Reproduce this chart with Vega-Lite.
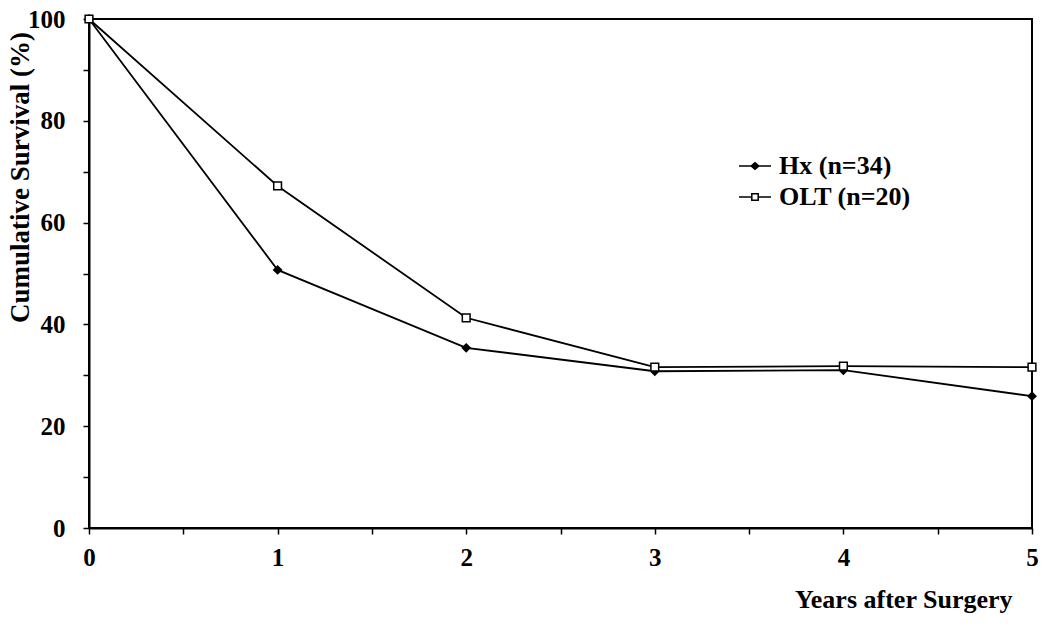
{
  "$schema": "https://vega.github.io/schema/vega-lite/v6.json",
  "autosize": "none",
  "width": 943,
  "height": 509,
  "padding": {"left": 89, "top": 19, "right": 18, "bottom": 99},
  "background": "white",
  "view": {"stroke": "black", "strokeWidth": 2},
  "config": {
    "font": "Liberation Serif",
    "axis": {"domainColor": "black", "domainWidth": 2, "tickColor": "black", "tickWidth": 1.5, "tickSize": 6, "grid": false, "labelFont": "Liberation Serif", "labelFontWeight": "bold", "labelFontSize": 25, "labelColor": "black", "titleFont": "Liberation Serif", "titleFontWeight": "bold", "titleColor": "black"}
  },
  "data": {"values": [
    {"year": 0, "surv": 100, "series": "Hx (n=34)"},
    {"year": 1, "surv": 50.7, "series": "Hx (n=34)"},
    {"year": 2, "surv": 35.4, "series": "Hx (n=34)"},
    {"year": 3, "surv": 30.8, "series": "Hx (n=34)"},
    {"year": 4, "surv": 31.0, "series": "Hx (n=34)"},
    {"year": 5, "surv": 25.9, "series": "Hx (n=34)"},
    {"year": 0, "surv": 100, "series": "OLT (n=20)"},
    {"year": 1, "surv": 67.2, "series": "OLT (n=20)"},
    {"year": 2, "surv": 41.3, "series": "OLT (n=20)"},
    {"year": 3, "surv": 31.6, "series": "OLT (n=20)"},
    {"year": 4, "surv": 31.8, "series": "OLT (n=20)"},
    {"year": 5, "surv": 31.6, "series": "OLT (n=20)"}
  ]},
  "encoding": {
    "x": {"field": "year", "type": "quantitative", "scale": {"domain": [0, 5], "nice": false},
      "axis": {"values": [0, 0.5, 1, 1.5, 2, 2.5, 3, 3.5, 4, 4.5, 5], "labelExpr": "datum.value % 1 == 0 ? format(datum.value, 'd') : ''", "labelPadding": 11, "labelFlush": false,
        "title": "Years after Surgery", "titleFontSize": 26, "titleAnchor": "end", "titleAlign": "right", "titleX": 923, "titleY": 84, "titleBaseline": "bottom"}},
    "y": {"field": "surv", "type": "quantitative", "scale": {"domain": [0, 100], "nice": false},
      "axis": {"values": [0, 10, 20, 30, 40, 50, 60, 70, 80, 90, 100], "labelExpr": "datum.value % 20 == 0 ? format(datum.value, 'd') : ''", "labelPadding": 18, "labelFlush": false,
        "title": "Cumulative Survival (%)", "titleFontSize": 27, "titleAngle": 270, "titleAlign": "center", "titleX": -69, "titleY": 158, "titleBaseline": "middle"}}
  },
  "layer": [
    {"mark": {"type": "line", "color": "black", "strokeWidth": 1.8},
     "encoding": {"detail": {"field": "series"}}},
    {"mark": {"type": "point", "stroke": "black", "strokeWidth": 1.5, "opacity": 1, "size": 60, "filled": false},
     "encoding": {
       "shape": {"field": "series", "type": "nominal", "scale": {"domain": ["Hx (n=34)", "OLT (n=20)"], "range": ["diamond", "square"]}, "legend": null},
       "fill": {"field": "series", "type": "nominal", "scale": {"domain": ["Hx (n=34)", "OLT (n=20)"], "range": ["black", "white"]}, "legend": null}
     }},
    {"mark": {"type": "point", "strokeWidth": 1.5, "opacity": 0, "filled": false},
     "encoding": {
       "shape": {"field": "series", "type": "nominal", "scale": {"domain": ["Hx (n=34)", "OLT (n=20)"], "range": ["M-1,0H1M-0.24,0L0,-0.2L0.24,0L0,0.2Z", "M-1,0H-0.2M0.2,0H1M-0.2,-0.2H0.2V0.2H-0.2Z"]},
         "legend": {"title": null, "orient": "none", "legendX": 649, "legendY": 130, "labelFont": "Liberation Serif", "labelFontWeight": "bold", "labelFontSize": 26, "labelColor": "black", "labelOffset": 7, "rowPadding": 1, "symbolSize": 1024, "symbolStrokeWidth": 1.5, "symbolStrokeColor": "black", "symbolOpacity": 1}},
       "fill": {"field": "series", "type": "nominal", "scale": {"domain": ["Hx (n=34)", "OLT (n=20)"], "range": ["black", "white"]}},
       "stroke": {"field": "series", "type": "nominal", "scale": {"domain": ["Hx (n=34)", "OLT (n=20)"], "range": ["black", "black"]}}
     }}
  ],
  "resolve": {"scale": {"shape": "independent", "fill": "independent", "stroke": "independent"}}
}
